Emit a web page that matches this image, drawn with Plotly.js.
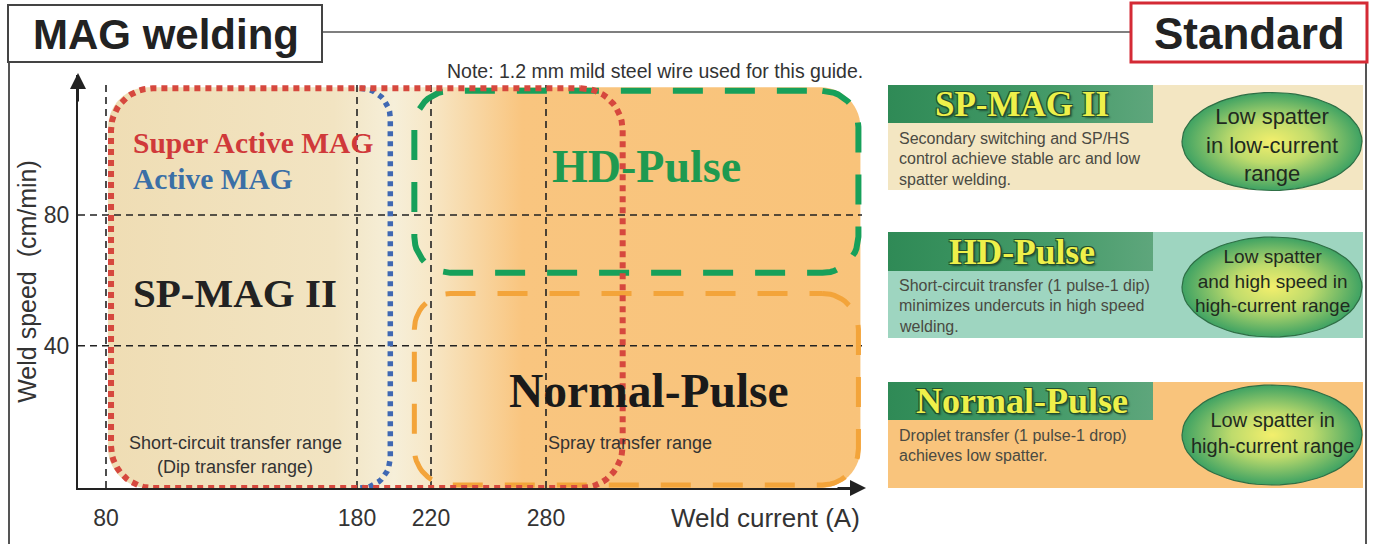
<!DOCTYPE html>
<html>
<head>
<meta charset="utf-8">
<script src="https://cdn.plot.ly/plotly-3.0.1.min.js"></script>
<style>
html,body{margin:0;padding:0;background:#fff;}
#chart{width:1374px;height:544px;}
</style>
</head>
<body>
<div id="chart"></div>
<script>
// ================= DATA =================
const currentTicks = [80, 180, 220, 280];               // weld current, A
const currentTickLabels = ['80', '180', '220', '280'];
const speedTicks = [40, 80];                             // weld speed, cm/min
const speedTickLabels = ['40', '80'];

const wireNames = ['Super Active MAG', 'Active MAG'];
const processNames = ['SP-MAG II', 'HD-Pulse', 'Normal-Pulse'];
const transferNames = ['Short-circuit transfer range', '(Dip transfer range)', 'Spray transfer range'];

// application ranges (current in A, speed in cm/min; null = down to the axis)
const regionNames      = ['Super Active MAG', 'Active MAG', 'HD-Pulse', 'Normal-Pulse'];
const regionCurrentMin = [82, 82, 211, 211];
const regionCurrentMax = [320, 198, 443, 443];
const regionSpeedMin   = [null, null, 62.3, -2.6];
const regionSpeedMax   = [118.8, 118.8, 118, 56];

const processDescriptions = [
  ['Secondary switching and SP/HS', 'control achieve stable arc and low', 'spatter welding.'],
  ['Short-circuit transfer (1 pulse-1 dip)', 'minimizes undercuts in high speed', 'welding.'],
  ['Droplet transfer (1 pulse-1 drop)', 'achieves low spatter.']
];
const processBenefits = [
  ['Low spatter', 'in low-current', 'range'],
  ['Low spatter', 'and high speed in', 'high-current range'],
  ['Low spatter in', 'high-current range']
];
const noteText = 'Note: 1.2 mm mild steel wire used for this guide.';

// ================= LAYOUT GEOMETRY =================
const W = 1374, H = 544;
const PLOT = {l: 78, r: 862, t: 75, b: 488};
const tickSpots = [0, 251, 325, 440];   // pixel spacing of the current ticks on the drawing
const xRange = [-28, 756];
const yRange = [-3.55, 122.85];
const kx = (PLOT.r - PLOT.l) / (xRange[1] - xRange[0]);
const ky = (PLOT.b - PLOT.t) / (yRange[1] - yRange[0]);
const floorY = yRange[0];

function ampToX(a) {
  const n = currentTicks.length;
  let i = 0;
  while (i < n - 2 && a > currentTicks[i + 1]) i++;
  const a0 = currentTicks[i], a1 = currentTicks[i + 1];
  const s0 = tickSpots[i], s1 = tickSpots[i + 1];
  return s0 + (a - a0) * (s1 - s0) / (a1 - a0);
}

function roundedRect(x0, x1, y0, y1, r, part, sx, sy) {
  const rx = r / sx, ry = r / sy, N = 14;
  const xs = [], ys = [];
  function arc(cx, cy, a0, a1) {
    for (let k = 0; k <= N; k++) {
      const t = (a0 + (a1 - a0) * k / N) * Math.PI / 180;
      xs.push(cx + rx * Math.cos(t));
      ys.push(cy + ry * Math.sin(t));
    }
  }
  arc(x1 - rx, y1 - ry, 90, 0);
  arc(x1 - rx, y0 + ry, 0, -90);
  if (part === 'right') return {x: xs, y: ys};
  arc(x0 + rx, y0 + ry, -90, -180);
  arc(x0 + rx, y1 - ry, 180, 90);
  xs.push(xs[0]); ys.push(ys[0]);
  return {x: xs, y: ys};
}

const SANS = 'Liberation Sans, Arial, Helvetica, sans-serif';
const SERIF = 'Liberation Serif, Times New Roman, serif';

const traces = [];

// ---- background gradient of the application area ----
const bgX0 = ampToX(Math.min(...regionCurrentMin)) - 3;
const bgX1 = ampToX(Math.max(...regionCurrentMax)) + 2;
const bgY1 = Math.max(...regionSpeedMax) + 0.3;
const bg = roundedRect(bgX0, bgX1, floorY, bgY1, 40, 'all', kx, ky);
traces.push({
  type: 'scatter', mode: 'none', x: bg.x, y: bg.y, fill: 'toself',
  fillcolor: '#f6d9a4',
  fillgradient: {type: 'horizontal', colorscale: [
    [0, '#efddb4'], [0.30, '#f2e4c2'], [0.38, '#f6efd9'], [0.425, '#f7e8c8'],
    [0.55, '#f9c57f'], [1, '#f9c37a']]},
  hoverinfo: 'skip', xaxis: 'x', yaxis: 'y'
});

// ---- dashed reference grid (drawn over the fill) ----
const gx = [], gy = [];
currentTicks.forEach(a => { gx.push(ampToX(a), ampToX(a), null); gy.push(floorY, 120, null); });
speedTicks.forEach(s => { gx.push(xRange[0], xRange[1], null); gy.push(s, s, null); });
traces.push({
  type: 'scatter', mode: 'lines', x: gx, y: gy,
  line: {color: '#222', width: 1.6, dash: '7px,5px'},
  hoverinfo: 'skip', xaxis: 'x', yaxis: 'y'
});

// ---- region outlines ----
const regionStyles = [
  {color: '#d6483e', width: 6, dash: '6px,5px', r: 42, part: 'all'},
  {color: '#3f68b3', width: 5.5, dash: '5px,5px', r: 30, part: 'right'},
  {color: '#17a05a', width: 6, dash: '30px,22px', r: 36, part: 'all'},
  {color: '#f3a43a', width: 5, dash: '30px,22px', r: 36, part: 'all'}
];
[3, 2, 1, 0].forEach(i => {
  const st = regionStyles[i];
  const y0 = regionSpeedMin[i] === null ? floorY : regionSpeedMin[i];
  const p = roundedRect(ampToX(regionCurrentMin[i]), ampToX(regionCurrentMax[i]),
                        y0, regionSpeedMax[i], st.r, st.part, kx, ky);
  traces.push({
    type: 'scatter', mode: 'lines', x: p.x, y: p.y, name: regionNames[i],
    line: {color: st.color, width: st.width, dash: st.dash},
    hoverinfo: 'skip', xaxis: 'x', yaxis: 'y', cliponaxis: false
  });
});

// ---- right-hand process panels (pixel axes x2/y2) ----
const panelTop = [85, 232, 382], panelBottom = [190, 338, 488], headerBottom = [123, 271, 420];
const panelColors = ['#f3e6c2', '#9ed5c0', '#f9c47c'];
const PANEL = {l: 888, r: 1363, hr: 1153};
const ell = {cx: 1272, rx: 90, cy: [141.5, 287, 435], ry: [49, 50, 50]};

function rectPts(x0, x1, y0, y1) { return {x: [x0, x1, x1, x0, x0], y: [y0, y0, y1, y1, y0]}; }

for (let i = 0; i < 3; i++) {
  const pb = rectPts(PANEL.l, PANEL.r, panelTop[i], panelBottom[i]);
  traces.push({type: 'scatter', mode: 'none', x: pb.x, y: pb.y, fill: 'toself',
    fillcolor: panelColors[i], hoverinfo: 'skip', xaxis: 'x2', yaxis: 'y2'});
  const hb = rectPts(PANEL.l, PANEL.hr, panelTop[i], headerBottom[i]);
  traces.push({type: 'scatter', mode: 'none', x: hb.x, y: hb.y, fill: 'toself',
    fillcolor: '#3f9663',
    fillgradient: {type: 'horizontal', colorscale: [[0, '#2f8a56'], [0.6, '#449a68'], [1, '#5ea67c']]},
    hoverinfo: 'skip', xaxis: 'x2', yaxis: 'y2'});
  const ex = [], ey = [];
  for (let k = 0; k <= 72; k++) {
    const t = k / 72 * 2 * Math.PI;
    ex.push(ell.cx + ell.rx * Math.cos(t));
    ey.push(ell.cy[i] + ell.ry[i] * Math.sin(t));
  }
  traces.push({type: 'scatter', mode: 'lines', x: ex, y: ey, fill: 'toself',
    fillcolor: '#9fd06a',
    fillgradient: {type: 'radial', colorscale: [[0, '#f3ef6c'], [0.45, '#bedb6c'], [1, '#3ea263']]},
    line: {color: '#2f6f45', width: 1.2},
    hoverinfo: 'skip', xaxis: 'x2', yaxis: 'y2'});
}

// ================= ANNOTATIONS =================
function ann(text, xPx, yPx, font, xanchor, extra) {
  return Object.assign({text: text, x: xPx / W, y: 1 - yPx / H, xref: 'paper', yref: 'paper',
    xanchor: xanchor || 'center', yanchor: 'middle', showarrow: false, font: font}, extra || {});
}
const annotations = [
  ann('MAG welding', 166, 34, {family: SANS, size: 42, color: '#222', weight: 700}),
  ann('Standard', 1249, 33, {family: SANS, size: 44, color: '#222', weight: 700}),
  ann(noteText, 445, 71, {family: SANS, size: 19.5, color: '#333'}, 'left'),
  ann(wireNames[0], 131, 143, {family: SERIF, size: 29.5, color: '#d0393a', weight: 700}, 'left'),
  ann(wireNames[1], 131, 179, {family: SERIF, size: 29.5, color: '#3b6fa6', weight: 700}, 'left'),
  ann(processNames[0], 131, 293, {family: SERIF, size: 41, color: '#222', weight: 700}, 'left'),
  ann(processNames[1], 550, 166, {family: SERIF, size: 46, color: '#1f9a50', weight: 700}, 'left'),
  ann(processNames[2], 649, 391, {family: SERIF, size: 47.5, color: '#1a1a1a', weight: 700}),
  ann(transferNames[0], 235, 443, {family: SANS, size: 18, color: '#333'}),
  ann(transferNames[1], 235, 467, {family: SANS, size: 18, color: '#333'}),
  ann(transferNames[2], 546, 443, {family: SANS, size: 18, color: '#333'}, 'left'),
  ann('Weld current (A)', 862, 518, {family: SANS, size: 26, color: '#333'}, 'right'),
  // axis arrow heads
  {text: '', x: (PLOT.r + 4) / W, y: 1 - PLOT.b / H, xref: 'paper', yref: 'paper',
   showarrow: true, ax: -30, ay: 0, arrowhead: 2, arrowsize: 1.6, arrowwidth: 2, arrowcolor: '#222', standoff: 0},
  {text: '', x: PLOT.l / W, y: 1 - (PLOT.t - 2) / H, xref: 'paper', yref: 'paper',
   showarrow: true, ax: 0, ay: 30, arrowhead: 2, arrowsize: 1.6, arrowwidth: 2, arrowcolor: '#222', standoff: 0}
];

const headerShadow = '1px 1px 0 #22502e, -1px -1px 0 #22502e, 1px -1px 0 #22502e, -1px 1px 0 #22502e, 2px 2px 2px rgba(0,0,0,0.45)';
const headerSizes = [35, 35.5, 36];
const benefitSizes = [22, 19, 20];
const benefitCenters = [144.5, 281, 432.5];
for (let i = 0; i < 3; i++) {
  annotations.push(ann(processNames[i], 1022, (panelTop[i] + headerBottom[i]) / 2,
    {family: SERIF, size: headerSizes[i], color: '#eef04a', weight: 700, shadow: headerShadow}));
  processDescriptions[i].forEach((line, k) => {
    annotations.push(ann(line, 897, panelTop[i] + 53 + k * 20.5, {family: SANS, size: 16, color: '#4a4a42'}, 'left'));
  });
  annotations.push(ann(processBenefits[i].join('<br>'), ell.cx, benefitCenters[i],
    {family: SANS, size: benefitSizes[i], color: '#1f2a1f'}));
}

// ================= FRAME SHAPES =================
function pxLine(x0, y0, x1, y1, color, width) {
  return {type: 'line', xref: 'paper', yref: 'paper', x0: x0 / W, x1: x1 / W, y0: 1 - y0 / H, y1: 1 - y1 / H,
    line: {color: color, width: width}};
}
function pxRect(x0, y0, x1, y1, color, width) {
  return {type: 'rect', xref: 'paper', yref: 'paper', x0: x0 / W, x1: x1 / W, y0: 1 - y0 / H, y1: 1 - y1 / H,
    line: {color: color, width: width}, fillcolor: '#ffffff'};
}
const shapes = [
  pxLine(322, 32, 1131, 32, '#555', 1.6),
  pxLine(9, 62, 9, 544, '#555', 2),
  pxLine(1366, 62, 1366, 544, '#555', 2),
  pxRect(8, 5, 322, 62, '#444', 2),
  pxRect(1131, 3, 1367, 62, '#d42a35', 3)
];

// ================= LAYOUT =================
const layout = {
  width: W, height: H,
  margin: {l: 0, r: 0, t: 0, b: 0, pad: 0},
  paper_bgcolor: '#ffffff', plot_bgcolor: 'rgba(0,0,0,0)',
  showlegend: false, hovermode: false,
  xaxis: {
    domain: [PLOT.l / W, PLOT.r / W], range: xRange, anchor: 'y',
    tickmode: 'array', tickvals: currentTicks.map(ampToX), ticktext: currentTickLabels,
    showgrid: false, zeroline: false, showline: true, linecolor: '#222', linewidth: 2,
    ticks: '', ticklabelstandoff: 8,
    tickfont: {family: SANS, size: 23, color: '#333'}, fixedrange: true
  },
  yaxis: {
    domain: [1 - PLOT.b / H, 1 - PLOT.t / H], range: yRange, anchor: 'x',
    tickmode: 'array', tickvals: speedTicks, ticktext: speedTickLabels,
    showgrid: false, zeroline: false, showline: true, linecolor: '#222', linewidth: 2,
    ticks: '', ticklabelstandoff: 2,
    tickfont: {family: SANS, size: 23, color: '#333'},
    title: {text: 'Weld speed\u00a0 (cm/min)', font: {family: SANS, size: 25, color: '#333'}, standoff: 0},
    fixedrange: true
  },
  xaxis2: {domain: [0, 1], range: [0, W], anchor: 'y2', visible: false, fixedrange: true},
  yaxis2: {domain: [0, 1], range: [H, 0], anchor: 'x2', visible: false, fixedrange: true},
  annotations: annotations,
  shapes: shapes
};

Plotly.newPlot('chart', traces, layout, {staticPlot: true, displayModeBar: false});
</script>
</body>
</html>
